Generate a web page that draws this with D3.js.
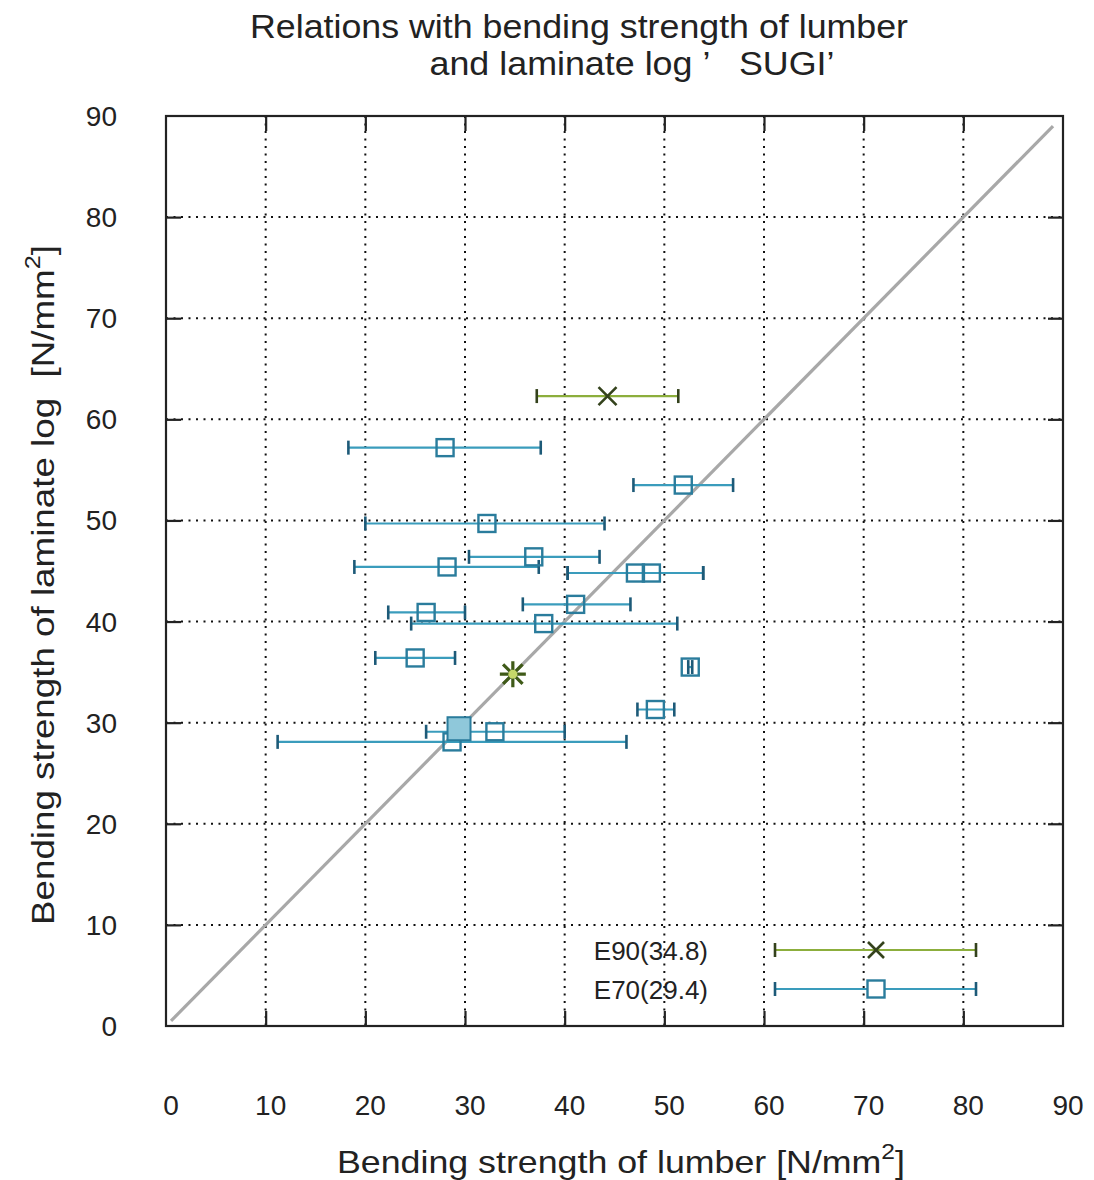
<!DOCTYPE html>
<html>
<head>
<meta charset="utf-8">
<script src="https://cdn.jsdelivr.net/npm/d3@7"></script>
<style>
  html, body { margin: 0; padding: 0; background: #fff; }
  svg text { font-family: "Liberation Sans", Arial, sans-serif; fill: #222; white-space: pre; }
</style>
</head>
<body>
<svg id="chart" width="1094" height="1180"></svg>
<script>
// ---- data ----
const xTicks = [0, 10, 20, 30, 40, 50, 60, 70, 80, 90];
const yTicks = [0, 10, 20, 30, 40, 50, 60, 70, 80, 90];

// E70 specimens: lumber mean, laminate, lumber low, lumber high
const e70X    = [28.0, 51.9, 32.2, 36.9, 28.2, 47.1, 48.7, 41.1, 26.1, 37.9, 25.0, 52.6, 49.1, 33.0, 28.7];
const e70Y    = [57.2, 53.5, 49.7, 46.4, 45.4, 44.8, 44.8, 41.7, 40.9, 39.8, 36.4, 35.5, 31.3, 29.1, 28.1];
const e70Low  = [18.3, 46.9, 20.0, 30.4, 18.9, 40.3, 40.3, 35.8, 22.3, 24.6, 21.0, 52.4, 47.3, 26.1, 11.2];
const e70High = [37.6, 56.9, 44.0, 43.5, 37.4, 53.9, 53.9, 46.6, 30.0, 51.3, 29.0, 52.8, 51.0, 40.0, 46.2];

// E90 specimens
const e90X    = [44.3];
const e90Y    = [62.3];
const e90Low  = [37.2];
const e90High = [51.4];

// group means (lumber, laminate)
const e90Mean = [34.8, 34.8];
const e70Mean = [29.4, 29.4];

const legendLabels = ["E90(34.8)", "E70(29.4)"];

// ---- styles ----
const C70 = "#3a9cbc", C70dark = "#1d5a78", C70fill = "#8fc8da";
const C90 = "#8cae3c", C90dark = "#34421c";

const svg = d3.select("#chart");
const M = { left: 166, right: 1063, top: 116, bottom: 1026 };
const x = d3.scaleLinear().domain([0, 90]).range([M.left, M.right]);
const y = d3.scaleLinear().domain([0, 90]).range([M.bottom, M.top]);

// title
svg.append("text").attr("x", 579).attr("y", 38).attr("text-anchor", "middle")
  .style("font-size", "33px").attr("textLength", 658).attr("lengthAdjust", "spacingAndGlyphs")
  .text("Relations with bending strength of lumber");
svg.append("text").attr("x", 632).attr("y", 75).attr("text-anchor", "middle")
  .style("font-size", "33px").attr("textLength", 405).attr("lengthAdjust", "spacingAndGlyphs")
  .text("and laminate log \u2019   SUGI\u2019");

// grid (dotted)
const grid = svg.append("g");
grid.selectAll(".vg").data(xTicks.slice(1, -1)).join("line")
  .attr("x1", d => x(d)).attr("x2", d => x(d)).attr("y1", y(90)).attr("y2", y(0))
  .attr("stroke", "#111").attr("stroke-width", 2).attr("stroke-dasharray", "2,5.5");
grid.selectAll(".hg").data(yTicks.slice(1, -1)).join("line")
  .attr("y1", d => y(d)).attr("y2", d => y(d)).attr("x1", x(0)).attr("x2", x(90))
  .attr("stroke", "#111").attr("stroke-width", 2).attr("stroke-dasharray", "2,5.5");

// axes with inward ticks on all four sides
const tickLen = 15;
svg.append("g").attr("transform", `translate(0,${M.bottom})`)
  .call(d3.axisTop(x).tickValues(xTicks.slice(1, -1)).tickSize(tickLen).tickFormat(""))
  .call(g => g.select(".domain").remove());
svg.append("g").attr("transform", `translate(0,${M.top})`)
  .call(d3.axisBottom(x).tickValues(xTicks.slice(1, -1)).tickSize(tickLen).tickFormat(""))
  .call(g => g.select(".domain").remove());
svg.append("g").attr("transform", `translate(${M.left},0)`)
  .call(d3.axisRight(y).tickValues(yTicks.slice(1, -1)).tickSize(tickLen).tickFormat(""))
  .call(g => g.select(".domain").remove());
svg.append("g").attr("transform", `translate(${M.right},0)`)
  .call(d3.axisLeft(y).tickValues(yTicks.slice(1, -1)).tickSize(tickLen).tickFormat(""))
  .call(g => g.select(".domain").remove());
svg.selectAll(".tick line").attr("stroke", "#222").attr("stroke-width", 2.2);

// tick labels
svg.append("g").selectAll("text").data(xTicks).join("text")
  .attr("x", d => x(d) + 5).attr("y", 1115).attr("text-anchor", "middle")
  .style("font-size", "28px").text(d => d);
svg.append("g").selectAll("text").data(yTicks).join("text")
  .attr("x", 117).attr("y", d => y(d) + 10).attr("text-anchor", "end")
  .style("font-size", "28px").text(d => d);

// frame
svg.append("rect").attr("x", M.left).attr("y", M.top)
  .attr("width", M.right - M.left).attr("height", M.bottom - M.top)
  .attr("fill", "none").attr("stroke", "#222").attr("stroke-width", 2.2);

// diagonal y = x
svg.append("line").attr("x1", x(0.5)).attr("y1", y(0.5)).attr("x2", x(89)).attr("y2", y(89))
  .attr("stroke", "#a8a8a8").attr("stroke-width", 3.2);

// error bar helper
const capH = 7;
function errorBars(g, xs, ys, lo, hi, col, capCol) {
  const idx = d3.range(xs.length);
  g.selectAll(".bar").data(idx).join("line")
    .attr("x1", i => x(lo[i])).attr("x2", i => x(hi[i]))
    .attr("y1", i => y(ys[i])).attr("y2", i => y(ys[i]))
    .attr("stroke", col).attr("stroke-width", 2.2);
  [lo, hi].forEach(arr => {
    g.append("g").selectAll("line").data(idx).join("line")
      .attr("x1", i => x(arr[i])).attr("x2", i => x(arr[i]))
      .attr("y1", i => y(ys[i]) - capH).attr("y2", i => y(ys[i]) + capH)
      .attr("stroke", capCol).attr("stroke-width", 2.6);
  });
}

// E70
const g70 = svg.append("g");
errorBars(g70, e70X, e70Y, e70Low, e70High, C70, C70dark);
const sq = 17;
g70.append("g").selectAll("rect").data(d3.range(e70X.length)).join("rect")
  .attr("x", i => x(e70X[i]) - sq / 2).attr("y", i => y(e70Y[i]) - sq / 2)
  .attr("width", sq).attr("height", sq)
  .attr("fill", "none").attr("stroke", "#2a7c9c").attr("stroke-width", 2.4);

// E90
const g90 = svg.append("g");
errorBars(g90, e90X, e90Y, e90Low, e90High, C90, C90dark);
function drawX(g, cx, cy, s, col) {
  g.append("path").attr("d", `M${cx - s},${cy - s}L${cx + s},${cy + s}M${cx - s},${cy + s}L${cx + s},${cy - s}`)
    .attr("stroke", col).attr("stroke-width", 2.6).attr("fill", "none");
}
e90X.forEach((v, i) => drawX(g90, x(v), y(e90Y[i]), 9, C90dark));

// means
const fs = 23;
svg.append("rect").attr("x", x(e70Mean[0]) - fs / 2).attr("y", y(e70Mean[1]) - fs / 2)
  .attr("width", fs).attr("height", fs).attr("fill", C70fill).attr("stroke", "#2a7c9c").attr("stroke-width", 2);
(function star() {
  const cx = x(e90Mean[0]), cy = y(e90Mean[1]), r = 13, d = r * 0.75;
  svg.append("path")
    .attr("d", `M${cx - r},${cy}L${cx + r},${cy}M${cx},${cy - r}L${cx},${cy + r}M${cx - d},${cy - d}L${cx + d},${cy + d}M${cx - d},${cy + d}L${cx + d},${cy - d}`)
    .attr("stroke", "#3f5a18").attr("stroke-width", 3.2).attr("fill", "none");
  svg.append("circle").attr("cx", cx).attr("cy", cy).attr("r", 4.5).attr("fill", "#c6d86a");
})();

// legend
const leg = svg.append("g");
const legRows = [
  { label: legendLabels[0], y: 950, col: C90, cap: C90dark, mark: "x" },
  { label: legendLabels[1], y: 989, col: C70, cap: C70dark, mark: "sq" }
];
legRows.forEach(r => {
  leg.append("text").attr("x", 708).attr("y", r.y + 10).attr("text-anchor", "end")
    .style("font-size", "26px").text(r.label);
  leg.append("line").attr("x1", 775).attr("x2", 976).attr("y1", r.y).attr("y2", r.y)
    .attr("stroke", r.col).attr("stroke-width", 2.2);
  [775, 976].forEach(cx => leg.append("line").attr("x1", cx).attr("x2", cx)
    .attr("y1", r.y - capH).attr("y2", r.y + capH).attr("stroke", r.cap).attr("stroke-width", 2.6));
  if (r.mark === "x") drawX(leg, 876, r.y, 8, C90dark);
  else leg.append("rect").attr("x", 876 - sq / 2).attr("y", r.y - sq / 2).attr("width", sq).attr("height", sq)
    .attr("fill", "#fff").attr("stroke", "#2a7c9c").attr("stroke-width", 2.4);
});

// axis titles
const xl = svg.append("text").attr("x", 621).attr("y", 1173).attr("text-anchor", "middle")
  .style("font-size", "32px").attr("textLength", 568).attr("lengthAdjust", "spacingAndGlyphs");
xl.append("tspan").text("Bending strength of lumber [N/mm");
xl.append("tspan").attr("dy", -14).style("font-size", "22px").text("2");
xl.append("tspan").attr("dy", 14).text("]");

const yl = svg.append("text").attr("transform", "translate(54,585) rotate(-90)")
  .attr("text-anchor", "middle").style("font-size", "32px")
  .attr("textLength", 680).attr("lengthAdjust", "spacingAndGlyphs");
yl.append("tspan").text("Bending strength of laminate log  [N/mm");
yl.append("tspan").attr("dy", -14).style("font-size", "22px").text("2");
yl.append("tspan").attr("dy", 14).text("]");
</script>
</body>
</html>
